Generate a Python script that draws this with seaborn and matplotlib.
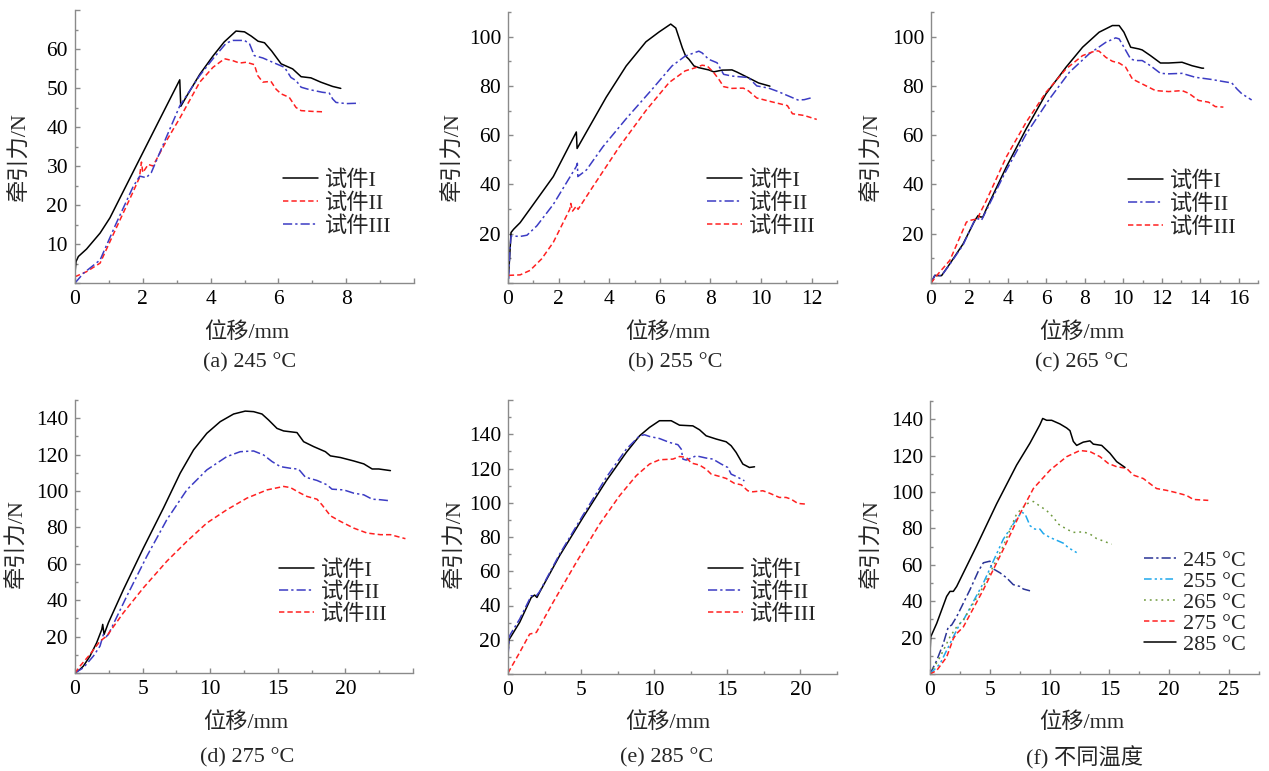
import numpy as np
import pandas as pd
import matplotlib
matplotlib.use("Agg")
import matplotlib.pyplot as plt
import matplotlib.transforms as mtransforms
from matplotlib.ticker import MultipleLocator, FuncFormatter
import seaborn as sns

# ---------------- data (displacement mm, traction force N) ----------------
# (a) 245 °C
A1_X = [0, 0.03, 0.1, 0.34, 0.74, 1.03, 1.5, 2.0, 2.5, 3.09, 3.12, 3.3, 3.68, 4.07, 4.4, 4.75, 5.0, 5.2, 5.4, 5.59, 5.8, 6.08, 6.42, 6.67, 6.96, 7.25, 7.6, 7.84]
A1_Y = [2.5, 5.5, 6.8, 8.7, 12.8, 16.7, 24.8, 33.4, 42, 52.1, 45.3, 48, 53.5, 58.2, 61.8, 64.6, 64.4, 63.3, 62, 61.6, 59.5, 56.2, 54.9, 52.9, 52.6, 51.5, 50.4, 49.9]
A2_X = [0, 0.34, 0.74, 1.2, 1.72, 1.9, 1.96, 2.0, 2.16, 2.3, 2.7, 3.1, 3.68, 4.07, 4.41, 4.66, 4.85, 5.05, 5.29, 5.39, 5.54, 5.78, 5.93, 6.08, 6.32, 6.52, 6.67, 7.0, 7.3]
A2_Y = [1.6, 2.9, 5.1, 13.8, 23.5, 27, 31, 28.3, 30.4, 30, 36.5, 42.4, 51.5, 55.3, 57.5, 57, 56.4, 56.6, 56, 53.2, 51.5, 51.7, 49.7, 48.5, 47.6, 45, 44.2, 44, 43.9]
A3_X = [0, 0.25, 0.74, 1.2, 1.72, 1.91, 2.1, 2.25, 2.7, 3.09, 3.68, 4.07, 4.46, 4.66, 5.0, 5.15, 5.29, 5.54, 5.83, 6.18, 6.37, 6.52, 6.67, 6.91, 7.3, 7.5, 7.6, 7.7, 8.0, 8.38]
A3_Y = [0, 2.5, 5.9, 15, 24.8, 27.4, 27, 28.3, 37.5, 45.4, 53.2, 57.5, 61.5, 62.2, 62.2, 61.3, 58.3, 57.7, 56.6, 55.3, 52.7, 51.9, 50.2, 49.6, 48.9, 48.7, 47.2, 46.3, 46, 46.1]

# (b) 255 °C
B1_X = [0.03, 0.12, 0.22, 0.48, 1.0, 1.79, 2.7, 2.73, 3.1, 3.88, 4.67, 5.45, 5.97, 6.43, 6.63, 6.89, 7.02, 7.15, 7.35, 7.54, 7.93, 8.13, 8.46, 8.85, 9.05, 9.5, 9.9, 10.35]
B1_Y = [4.4, 20.5, 21.8, 24.5, 31.9, 43.2, 61.3, 54.6, 61.3, 75.4, 88.1, 97.9, 101.9, 105.1, 103.5, 95.4, 92.1, 90.8, 88.1, 87.4, 86.5, 85.7, 86.4, 86.5, 85.6, 83.3, 81.2, 79.9]
B2_X = [0.03, 0.07, 0.12, 0.48, 0.75, 1.14, 1.79, 2.7, 2.74, 2.76, 3.1, 3.75, 4.67, 5.7, 6.48, 7.0, 7.54, 7.67, 7.93, 8.26, 8.52, 8.85, 9.5, 9.83, 10.3, 10.65, 11.2, 11.45, 11.7, 11.96]
B2_Y = [1.7, 12.4, 19.1, 18.9, 19.4, 23.2, 31.9, 47.3, 48.6, 43.2, 45.9, 55.3, 66.7, 78.7, 88.1, 92.1, 94.1, 93.4, 90.8, 89.4, 84.7, 84, 83.4, 80, 79.1, 77.8, 75.4, 74.3, 74.4, 75.1]
B3_X = [0.03, 0.48, 0.87, 1.33, 1.79, 2.44, 2.48, 2.55, 2.7, 2.77, 3.36, 4.4, 5.45, 6.37, 7.0, 7.41, 7.67, 7.87, 8.13, 8.33, 8.52, 8.85, 9.3, 9.5, 9.83, 10.4, 11.04, 11.24, 11.7, 12.2]
B3_Y = [3.1, 3.3, 5.1, 9.8, 16.5, 29.9, 32.3, 29.2, 31.2, 29.9, 39.2, 55.3, 70, 81.4, 86.1, 87.4, 88.4, 88.1, 85.4, 82.7, 79.7, 79, 79.1, 78, 75.1, 73.6, 72, 68.7, 68, 66.4]

# (c) 265 °C
C1_X = [0, 0.2, 0.33, 0.55, 0.98, 1.67, 2.28, 2.45, 2.57, 2.7, 2.88, 3.91, 4.95, 5.98, 7.02, 7.88, 8.74, 9.43, 9.78, 10.03, 10.38, 10.81, 10.98, 11.41, 11.93, 12.36, 13.05, 13.57, 14.09, 14.17]
C1_Y = [0, 3.1, 3, 3, 7.8, 15.9, 25.4, 27.4, 26.8, 26.8, 30.1, 47, 62.6, 76.8, 87.6, 95.7, 101.8, 104.5, 104.5, 101.8, 95.7, 95, 94.6, 92.3, 89.3, 89.3, 89.6, 88.2, 87.2, 87.2]
C2_X = [0, 0.2, 0.33, 0.55, 0.98, 1.67, 2.22, 2.45, 2.62, 2.79, 3.91, 4.95, 6.16, 7.19, 8.22, 9.09, 9.6, 9.78, 10.03, 10.38, 10.64, 10.98, 11.41, 11.93, 12.36, 13.05, 13.74, 14.6, 15.1, 15.64, 15.9, 16.16, 16.67]
C2_Y = [0, 3.1, 3, 3, 7.6, 15.5, 24.7, 26.1, 25.4, 28.1, 45.7, 60.5, 74.7, 85.5, 93, 97.7, 99.5, 99.1, 95.7, 90.9, 90.3, 90.3, 88.2, 85.1, 84.9, 85.1, 83.5, 82.6, 81.9, 81.2, 78.8, 76.8, 74.3]
C3_X = [0, 0.38, 0.98, 1.84, 2.02, 2.45, 2.53, 2.88, 3.91, 4.95, 5.98, 7.02, 7.88, 8.57, 8.74, 9.09, 9.43, 9.78, 10.12, 10.47, 10.98, 11.67, 12.36, 13.05, 13.4, 13.91, 14.43, 14.78, 15.2]
C3_Y = [0, 3.8, 9.2, 24.7, 25.4, 26.1, 28.1, 33.5, 51.1, 65.3, 77.4, 86.9, 92.3, 94.3, 94.1, 91.6, 90, 89.3, 87.6, 82.8, 80.8, 78.1, 77.7, 78.1, 77, 74.1, 73.4, 71.6, 71.4]

# (d) 275 °C
D1_X = [0, 0.37, 0.62, 1.11, 1.6, 1.98, 2.05, 2.15, 2.47, 3.58, 5.06, 6.54, 7.78, 8.77, 9.75, 10.74, 11.73, 12.59, 13.21, 13.83, 14.32, 14.94, 15.43, 16.42, 16.91, 17.65, 18.52, 18.89, 19.63, 20.62, 21.36, 21.98, 22.47, 23.33]
D1_Y = [0, 2, 3.8, 9.3, 16.6, 23.9, 26.7, 21.2, 27.6, 45.8, 68.7, 90.6, 109.8, 122.6, 131.7, 138.1, 142.3, 143.9, 143.6, 142.3, 139, 134.4, 133, 132.1, 127.1, 124.4, 121.6, 119.3, 118.4, 116.5, 114.9, 112.1, 112.1, 111.2]
D2_X = [0, 0.62, 1.36, 1.85, 2.1, 2.3, 2.47, 3.83, 5.31, 6.79, 8.27, 9.75, 11.23, 12.22, 13.21, 13.95, 14.57, 15.19, 15.93, 16.54, 17.04, 17.9, 18.64, 19.01, 19.88, 20.62, 21.36, 21.98, 22.59, 23.33]
D2_Y = [0, 2.9, 9.3, 14.8, 21.2, 19.9, 21.2, 42.2, 64.1, 84.2, 100.6, 111.6, 118.9, 121.6, 122, 119.8, 116.2, 113.4, 112.5, 112, 107.6, 105.8, 103.4, 101, 100.6, 98.8, 97.9, 95.5, 95.2, 94.6]
D3_X = [0, 0.37, 1.11, 1.85, 2.35, 3.58, 5.06, 6.79, 8.27, 9.75, 11.23, 12.72, 14.2, 15.43, 15.93, 16.67, 17.16, 17.9, 18.27, 18.89, 19.63, 20.62, 21.6, 22.59, 23.33, 24.44]
D3_Y = [0, 3.8, 10.2, 17.5, 20.3, 33.1, 46.8, 61.4, 72.3, 82.4, 89.7, 96.1, 100.6, 102.5, 101.9, 98.8, 97, 95.5, 92.4, 86.4, 83.3, 79.6, 76.9, 76, 76, 73.8]

# (e) 285 °C
E1_X = [0, 0.07, 0.8, 1.59, 1.82, 1.98, 2.16, 3.53, 5.13, 6.72, 8.09, 9.0, 9.68, 10.36, 11.16, 11.73, 12.64, 13.1, 13.55, 14.24, 14.92, 15.26, 15.6, 16.06, 16.51, 16.86]
E1_Y = [12.6, 20, 30.2, 44.7, 46.1, 44.7, 47.7, 69.1, 91.4, 112.8, 129.4, 139.1, 144, 147.9, 147.9, 145.3, 144.9, 142.6, 139.1, 137.2, 135.6, 133.3, 129.4, 122.6, 120.6, 121]
E2_X = [0, 0.11, 0.8, 1.59, 1.94, 2.16, 3.53, 5.13, 6.72, 8.09, 9.0, 9.34, 9.68, 10.36, 11.05, 11.62, 11.85, 11.96, 12.19, 12.87, 13.55, 14.01, 14.58, 15.03, 15.26, 15.6, 16.17]
E2_Y = [10.7, 22.4, 32.1, 45.7, 45.7, 48.1, 70, 92.8, 114.8, 131.3, 139.1, 139.7, 138.7, 137.5, 135.2, 133.9, 131.3, 125.5, 124.9, 127.4, 126.1, 125.5, 122.6, 120.6, 116.7, 115.4, 112.8]
E3_X = [0, 0.8, 1.48, 1.94, 3.08, 4.67, 6.26, 7.63, 8.77, 9.68, 10.36, 11.28, 11.73, 12.19, 12.53, 13.1, 13.55, 13.9, 14.46, 14.92, 15.49, 15.95, 16.4, 16.74, 17.43, 17.88, 18.56, 19.02, 19.36, 19.82, 20.39]
E3_Y = [0.6, 12.6, 23.3, 24.3, 41.8, 65.2, 87.5, 104.1, 115.8, 122.6, 125.1, 125.5, 127, 126.5, 123.2, 122, 119.6, 116.7, 115.4, 114.2, 111.3, 110.5, 107, 106.4, 107, 105.6, 103.1, 103.1, 102.1, 99.6, 99.2]

# (f) different temperatures
F245_X = [0, 0.56, 1.11, 1.53, 1.81, 2.23, 3.34, 4.04, 4.46, 5.01, 5.15, 5.85, 6.41, 6.96, 7.52, 7.8, 8.36]
F245_Y = [0, 7.4, 16.7, 25.9, 26.9, 31.5, 46.3, 56.5, 61.1, 62, 58.3, 55.6, 52.8, 49.1, 48.1, 46.7, 45.7]
F255_X = [0, 0.84, 1.67, 2.23, 2.51, 2.79, 4.46, 6.13, 7.24, 7.66, 7.94, 8.36, 8.77, 9.19, 9.47, 10.03, 10.72, 11.14, 11.56, 12.26]
F255_Y = [0, 5.6, 16.7, 24.1, 27.8, 29.6, 50, 74.1, 85.2, 88.9, 88, 81.5, 79.6, 79.6, 77.2, 75, 73.1, 71.9, 69.4, 66.7]
F265_X = [0, 0.84, 1.67, 2.23, 2.79, 4.46, 6.13, 7.24, 8.08, 8.64, 8.91, 9.75, 10.31, 10.72, 11.42, 11.98, 12.81, 13.37, 13.93, 14.48, 15.18]
F265_Y = [0, 9.3, 20.4, 25.9, 29.6, 48.1, 70.4, 88, 93.5, 94.8, 93.5, 89.8, 86.1, 82.4, 79.6, 77.8, 78.1, 76.9, 74.4, 73.1, 71.3]
F275_X = [0, 0.56, 1.39, 1.95, 2.23, 2.79, 4.46, 6.13, 7.52, 8.64, 10.03, 11.42, 12.53, 13.37, 14.21, 14.9, 15.6, 16.43, 16.99, 17.83, 18.38, 18.94, 19.78, 20.61, 21.45, 22.01, 23.26]
F275_Y = [0, 1.9, 9.3, 19.4, 22.2, 25.9, 46.3, 68.5, 88, 101.9, 112, 119.4, 122.8, 122.2, 119.4, 115.7, 113.9, 113, 109.3, 107.4, 104.6, 101.9, 100.9, 99.6, 98.1, 95.9, 95.4]
F285_X = [0, 0.06, 0.56, 1.39, 1.67, 1.95, 2.23, 3.9, 5.57, 7.24, 8.36, 9.19, 9.42, 9.75, 10.17, 10.86, 11.42, 11.7, 11.98, 12.26, 12.81, 13.37, 13.65, 14.35, 15.04, 15.6, 16.3]
F285_Y = [11.1, 20.4, 27.8, 42.6, 45.4, 45.4, 48.1, 70.4, 93.5, 114.8, 126.9, 137, 140.4, 139.4, 139.4, 137.4, 135.2, 133.7, 127.8, 125.6, 127.4, 128.1, 126.3, 125.6, 121.3, 116.7, 113.5]

SPECIMENS = ["试件I", "试件II", "试件III"]
TEMPS = ["245 °C", "255 °C", "265 °C", "275 °C", "285 °C"]
CAPTIONS = ["(a) 245 °C", "(b) 255 °C", "(c) 265 °C", "(d) 275 °C", "(e) 285 °C", "(f) 不同温度"]
X_LABEL = "位移/mm"
Y_LABEL = "牵引力/N"

A_XTICKS = [0, 2, 4, 6, 8]
A_YTICKS = [10, 20, 30, 40, 50, 60]
B_XTICKS = [0, 2, 4, 6, 8, 10, 12]
C_XTICKS = [0, 2, 4, 6, 8, 10, 12, 14, 16]
BC_YTICKS = [20, 40, 60, 80, 100]
D_XTICKS = [0, 5, 10, 15, 20]
E_XTICKS = [0, 5, 10, 15, 20]
F_XTICKS = [0, 5, 10, 15, 20, 25]
DEF_YTICKS = [20, 40, 60, 80, 100, 120, 140]

# ---------------- styling ----------------
sns.set_theme(style="ticks")
plt.rcParams["font.family"] = ["Liberation Serif", "Noto Sans CJK SC"]
plt.rcParams["axes.unicode_minus"] = False
FS_TICK = 15.5
FS = 16

BLACK = "#000000"
RED = "#ff2020"
BLUE = "#3c3cc4"
SOLID = ""
DASH = (3.5, 2)
DASHDOT = (6, 2, 1.5, 2)

W, H = 1269, 771
fig = plt.figure(figsize=(W / 100, H / 100), dpi=100)
fig.patch.set_facecolor("white")


def fx(px):
    return px / W


def fy(py):
    return 1 - py / H


def make_axes(l, t, r, b):
    return fig.add_axes([fx(l), fy(b), fx(r) - fx(l), fy(t) - fy(b)])


panels = [
    dict(rect=(75, 10, 414, 283), xlim=(0, 10), xmaj=2, xmin=1, ylim=(0, 70), ymaj=10, ymin=5,
         xt=A_XTICKS, yt=A_YTICKS,
         series=[(A1_X, A1_Y, SPECIMENS[0], BLACK, SOLID),
                 (A2_X, A2_Y, SPECIMENS[1], RED, DASH),
                 (A3_X, A3_Y, SPECIMENS[2], BLUE, DASHDOT)],
         leg=(283, 181), hl=1.58, ls=0.12, ylab=(20, 157), xlab=(247, 333), cap=(250, 363)),
    dict(rect=(508, 12, 837, 283), xlim=(0, 13), xmaj=2, xmin=1, ylim=(0, 110), ymaj=20, ymin=10,
         xt=B_XTICKS, yt=BC_YTICKS,
         series=[(B1_X, B1_Y, SPECIMENS[0], BLACK, SOLID),
                 (B2_X, B2_Y, SPECIMENS[1], BLUE, DASHDOT),
                 (B3_X, B3_Y, SPECIMENS[2], RED, DASH)],
         leg=(707, 181), hl=1.58, ls=0.12, ylab=(453, 157), xlab=(668, 333), cap=(675, 363)),
    dict(rect=(931, 12, 1258, 283), xlim=(0, 17), xmaj=2, xmin=1, ylim=(0, 110), ymaj=20, ymin=10,
         xt=C_XTICKS, yt=BC_YTICKS,
         series=[(C1_X, C1_Y, SPECIMENS[0], BLACK, SOLID),
                 (C2_X, C2_Y, SPECIMENS[1], BLUE, DASHDOT),
                 (C3_X, C3_Y, SPECIMENS[2], RED, DASH)],
         leg=(1128, 182), hl=1.58, ls=0.12, ylab=(872, 157), xlab=(1082, 333), cap=(1082, 363)),
    dict(rect=(75, 400, 413, 673), xlim=(0, 25), xmaj=5, xmin=2.5, ylim=(0, 150), ymaj=20, ymin=10,
         xt=D_XTICKS, yt=DEF_YTICKS,
         series=[(D1_X, D1_Y, SPECIMENS[0], BLACK, SOLID),
                 (D2_X, D2_Y, SPECIMENS[1], BLUE, DASHDOT),
                 (D3_X, D3_Y, SPECIMENS[2], RED, DASH)],
         leg=(279, 571), hl=1.58, ls=0.08, ylab=(17, 544), xlab=(246, 723), cap=(247, 758)),
    dict(rect=(508, 400, 837, 674), xlim=(0, 22.5), xmaj=5, xmin=2.5, ylim=(0, 160), ymaj=20, ymin=10,
         xt=E_XTICKS, yt=DEF_YTICKS,
         series=[(E1_X, E1_Y, SPECIMENS[0], BLACK, SOLID),
                 (E2_X, E2_Y, SPECIMENS[1], BLUE, DASHDOT),
                 (E3_X, E3_Y, SPECIMENS[2], RED, DASH)],
         leg=(708, 571), hl=1.58, ls=0.08, ylab=(455, 544), xlab=(668, 723), cap=(667, 758)),
    dict(rect=(930, 401, 1259, 674), xlim=(0, 27.5), xmaj=5, xmin=2.5, ylim=(0, 150), ymaj=20, ymin=10,
         xt=F_XTICKS, yt=DEF_YTICKS,
         series=[(F245_X, F245_Y, TEMPS[0], "#2a3496", (6, 2, 1.5, 2)),
                 (F255_X, F255_Y, TEMPS[1], "#1fa8ec", (5, 2, 1.5, 2, 1.5, 2)),
                 (F265_X, F265_Y, TEMPS[2], "#6f9a3e", (1.2, 2.6)),
                 (F275_X, F275_Y, TEMPS[3], RED, DASH),
                 (F285_X, F285_Y, TEMPS[4], BLACK, SOLID)],
         leg=(1144, 561), hl=1.45, ls=0.02, ylab=(872, 544), xlab=(1082, 723), cap=(1085, 758)),
]

SPINE = "#8a8a8a"

for i, p in enumerate(panels):
    ax = make_axes(*p["rect"])
    frames = []
    for xs, ys, name, color, dash in p["series"]:
        frames.append(pd.DataFrame({"x": xs, "y": ys, "s": name}))
    df = pd.concat(frames, ignore_index=True)
    names = [s[2] for s in p["series"]]
    sns.lineplot(data=df, x="x", y="y", hue="s", style="s", hue_order=names, style_order=names,
                 palette={s[2]: s[3] for s in p["series"]},
                 dashes={s[2]: s[4] for s in p["series"]},
                 sort=False, estimator=None, linewidth=1.1, legend=False, ax=ax)

    ax.set_xlim(*p["xlim"])
    ax.set_ylim(*p["ylim"])
    sns.despine(ax=ax)
    for side in ("left", "bottom"):
        ax.spines[side].set_color(SPINE)
        ax.spines[side].set_linewidth(1.0)

    ax.xaxis.set_major_locator(MultipleLocator(p["xmaj"]))
    ax.xaxis.set_minor_locator(MultipleLocator(p["xmin"]))
    ax.yaxis.set_major_locator(MultipleLocator(p["ymaj"]))
    ax.yaxis.set_minor_locator(MultipleLocator(p["ymin"]))
    xt, yt = p["xt"], p["yt"]
    ax.xaxis.set_major_formatter(FuncFormatter(
        lambda v, pos, xt=xt: f"{v:g}" if any(abs(v - t) < 1e-6 for t in xt) else ""))
    ax.yaxis.set_major_formatter(FuncFormatter(
        lambda v, pos, yt=yt: f"{v:g}" if any(abs(v - t) < 1e-6 for t in yt) else ""))
    ax.tick_params(which="both", direction="in", color=SPINE, width=1.0, labelsize=FS_TICK,
                   labelcolor="black", pad=5)
    ax.tick_params(which="major", length=3.6)
    ax.tick_params(which="minor", length=2.2)

    ax.set_xlabel(X_LABEL, fontsize=FS)
    ax.set_ylabel(Y_LABEL, fontsize=FS)
    ax.xaxis.set_label_coords(fx(p["xlab"][0]), fy(p["xlab"][1]), transform=fig.transFigure)
    ax.yaxis.set_label_coords(fx(p["ylab"][0]), fy(p["ylab"][1]), transform=fig.transFigure)
    ax.xaxis.label.set_va("center")
    ax.yaxis.label.set_va("center")

    # shift the origin label "0" a little to the left of the corner
    fig.canvas.draw()
    ticks = ax.xaxis.get_major_ticks()
    if ticks:
        lab = ticks[0].label1
        lab.set_transform(lab.get_transform() +
                          mtransforms.ScaledTranslation(-8 / 100, 0, fig.dpi_scale_trans))

    lx, ly = p["leg"]
    ax.legend(ax.get_lines()[:len(names)], names, loc="upper left",
              bbox_to_anchor=(fx(lx), fy(ly - 11)), bbox_transform=fig.transFigure,
              frameon=False, fontsize=FS, borderpad=0, borderaxespad=0,
              handlelength=p["hl"], handletextpad=0.32, labelspacing=p["ls"])

    fig.text(fx(p["cap"][0]), fy(p["cap"][1]), CAPTIONS[i], ha="center", va="center",
             fontsize=FS)

fig.savefig("out.png", dpi=100, facecolor="white")
